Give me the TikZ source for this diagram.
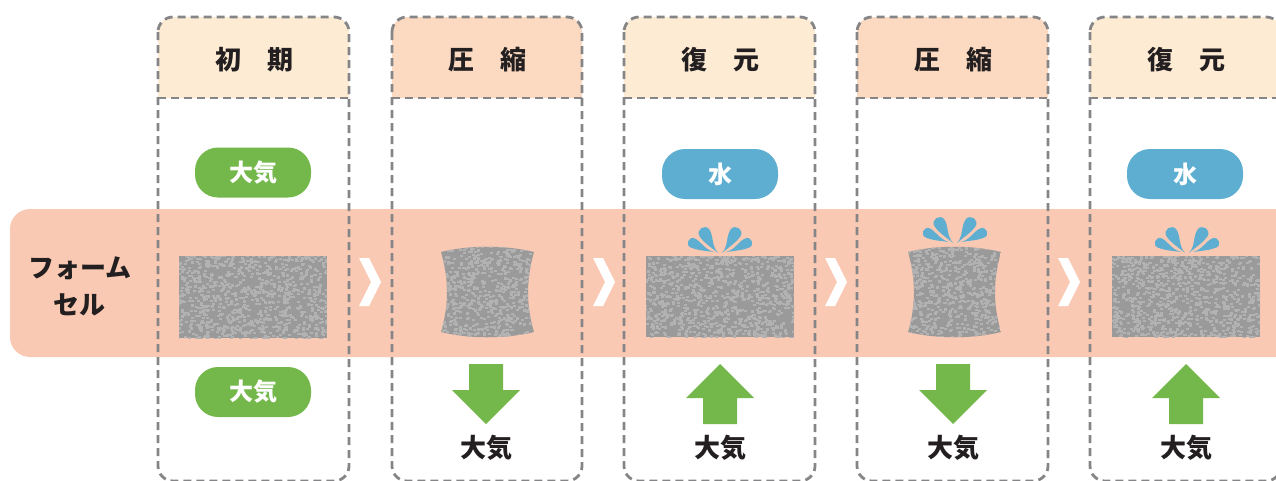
\documentclass[tikz,border=0pt]{standalone}
\usepackage{fontspec}
\setmainfont{Noto Sans CJK JP}[BoldFont={Noto Sans CJK JP Black}]
\definecolor{bandpink}{HTML}{FAC9B3}
\definecolor{headlight}{HTML}{FDEBD4}
\definecolor{headdeep}{HTML}{FCDAC2}
\definecolor{dashgray}{HTML}{858587}
\definecolor{leafgreen}{HTML}{74B84C}
\definecolor{waterblue}{HTML}{5DAED0}
\definecolor{foambase}{HTML}{9A9A9B}
\definecolor{foamdot}{HTML}{B2B2B3}
\definecolor{ink}{HTML}{231F20}
\tikzset{
  colframe/.style={draw=dashgray, line width=2.8pt, dash pattern=on 8pt off 5pt, rounded corners=15pt},
  sepline/.style={draw=dashgray, line width=2.8pt, dash pattern=on 8pt off 5pt},
  pill/.style={rounded corners=23pt, minimum width=116pt, minimum height=50pt, inner sep=0pt,
    text=white, font=\bfseries\fontsize{24}{28}\selectfont},
  headtext/.style={text=ink, font=\bfseries\fontsize{26}{30}\selectfont},
  airtext/.style={text=ink, font=\bfseries\fontsize{26}{30}\selectfont},
  chev/.style={fill=white},
  flow/.style={fill=leafgreen},
  splash/.style={fill=waterblue},
}
% light specks of the foam inside the current clip region
\newcommand\foamdots[4]{%
  \fill[foambase] (#1,#2) rectangle ++(#3,#4);
  \pgfmathtruncatemacro\ndots{#3*#4*0.075}%
  \foreach \k in {1,...,\ndots}{%
    \fill[foamdot] ({#1-2+rnd*(#3+2)},{#2-2+rnd*(#4+2)}) rectangle ++(3,2.2);
  }}
% one water drop: tail point, direction, length, head radius, bend
\newcommand\waterdrop[6]{%
  \fill[splash, shift={(#1,#2)}, rotate=#3]
    (0,0) .. controls ({0.4*#4},{0.1*#5+#6}) and ({#4-1.2*#5},{#5}) .. ({#4},{#5})
    .. controls ({#4+1.33*#5},{#5}) and ({#4+1.33*#5},{-#5}) .. ({#4},{-#5})
    .. controls ({#4-1.4*#5},{-#5}) and ({0.4*#4},{-0.1*#5+#6}) .. (0,0) -- cycle;}
\newcommand\splashat[2]{%
  \waterdrop{#1-6}{#2-1}{157}{23}{5}{-2}
  \waterdrop{#1-2}{#2}{124}{24}{6}{-2}
  \waterdrop{#1+2}{#2}{56}{24}{6}{2}
  \waterdrop{#1+6}{#2-1}{23}{23}{5}{2}}
% squeezed foam outline, left edge x, width
\newcommand\squeezedpath[2]{%
  (#1,252) .. controls ({#1+0.3*#2},245) and ({#1+0.7*#2},245) .. ({#1+#2},252)
  .. controls ({#1+#2-8},280) and ({#1+#2-8},305) .. ({#1+#2},332)
  .. controls ({#1+0.7*#2},339) and ({#1+0.3*#2},339) .. (#1,332)
  .. controls ({#1+8},305) and ({#1+8},280) .. (#1,252) -- cycle}
\newcommand\chevronat[1]{%
  \fill[chev] (#1-11,258) -- (#1-1,258) -- (#1+11,282) -- (#1-1,306) -- (#1-11,306) -- (#1+1,282) -- cycle;}
\newcommand\flowdown[1]{%
  \fill[flow] (#1-17,364) -- (#1+17,364) -- (#1+17,390) -- (#1+34,390) -- (#1,424) -- (#1-34,390) -- (#1-17,390) -- cycle;}
\newcommand\flowup[1]{%
  \fill[flow] (#1,364) -- (#1+34,398) -- (#1+17,398) -- (#1+17,424) -- (#1-17,424) -- (#1-17,398) -- (#1-34,398) -- cycle;}
\begin{document}
\begin{tikzpicture}[x=1pt,y=-1pt]
\useasboundingbox (0,0) rectangle (1276,480);
\clip (0,0) rectangle (1276,480);
\pgfmathsetseed{7}
% header fills
\foreach \xl/\xr/\col in {158/349/headlight, 392/582/headdeep, 624/815/headlight, 857/1048/headdeep, 1090/1281/headlight}{
  \fill[\col] (\xl,98) {[rounded corners=15pt] -- (\xl,17) -- (\xr,17)} -- (\xr,98) -- cycle;
}
% foam cell band
\fill[bandpink, rounded corners=20pt] (10,209) rectangle (1320,357);
% column frames and header separators
\foreach \xl/\xr in {158/349, 392/582, 624/815, 857/1048, 1090/1281}{
  \draw[colframe] (\xl,17) rectangle (\xr,481);
  \draw[sepline] (\xl,98) -- (\xr,98);
}
% header titles
\node[headtext] (h1) at (254,60) {初　期};
\node[headtext] (h2) at (487,60) {圧　縮};
\node[headtext] (h3) at (720,60) {復　元};
\node[headtext] (h4) at (953,60) {圧　縮};
\node[headtext] (h5) at (1186,60) {復　元};
% row label
\node[text=ink, font=\bfseries\fontsize{26}{37}\selectfont, align=center] (lbl) at (80,286) {フォーム\\セル};
% medium pills
\node[pill, fill=leafgreen] (air1) at (253,172.5) {大気};
\node[pill, fill=leafgreen] (air2) at (253,392) {大気};
\node[pill, fill=waterblue] (w3) at (720,174) {水};
\node[pill, fill=waterblue] (w5) at (1185,174) {水};
% foam blocks
\begin{scope}
  \clip (179,256) rectangle (327,338);
  \foamdots{179}{256}{148}{82}
\end{scope}
\begin{scope}
  \clip \squeezedpath{441}{93};
  \foamdots{441}{244}{93}{96}
\end{scope}
\begin{scope}
  \clip (646,256) rectangle (794,337);
  \foamdots{646}{256}{148}{81}
\end{scope}
\begin{scope}
  \clip \squeezedpath{908}{93};
  \foamdots{908}{244}{93}{96}
\end{scope}
\begin{scope}
  \clip (1112,256) rectangle (1260,337);
  \foamdots{1112}{256}{148}{81}
\end{scope}
% water splashes
\splashat{720}{253}
\splashat{955}{243}
\splashat{1187}{253}
% step chevrons
\chevronat{370}
\chevronat{604}
\chevronat{836}
\chevronat{1069}
% air flow arrows
\flowdown{486}
\flowup{720}
\flowdown{953}
\flowup{1186}
\node[airtext] (a2) at (486,448) {大気};
\node[airtext] (a3) at (720,448) {大気};
\node[airtext] (a4) at (953,448) {大気};
\node[airtext] (a5) at (1186,448) {大気};
\end{tikzpicture}
\end{document}
